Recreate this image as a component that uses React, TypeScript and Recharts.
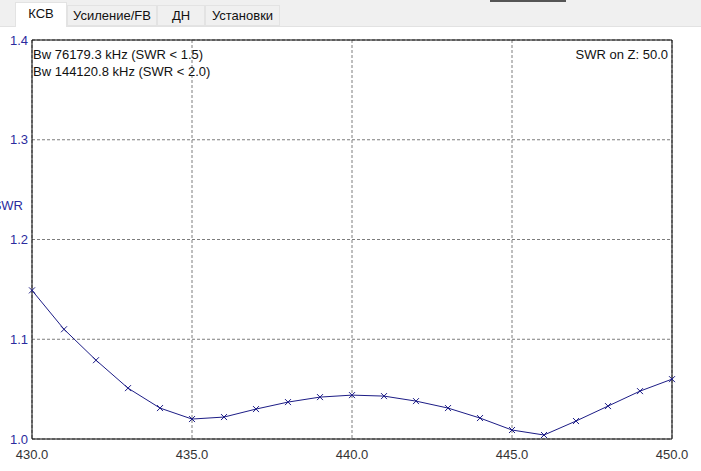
import React from "react";
import {
  CartesianGrid,
  Line,
  LineChart,
  ReferenceArea,
  XAxis,
  YAxis,
} from "recharts";

const freqs = [
  430, 431, 432, 433, 434, 435, 436, 437, 438, 439, 440, 441, 442, 443, 444,
  445, 446, 447, 448, 449, 450,
];
const swr = [
  1.149, 1.11, 1.079, 1.051, 1.031, 1.02, 1.022, 1.03, 1.037, 1.042, 1.044,
  1.043, 1.038, 1.031, 1.021, 1.009, 1.004, 1.018, 1.033, 1.048, 1.06,
];
const xTicks = [430, 435, 440, 445, 450];
const yTicks = [1.0, 1.1, 1.2, 1.3, 1.4];
const tabs = ["КСВ", "Усиление/FB", "ДН", "Установки"];
const notes = ["Bw 76179.3 kHz (SWR < 1.5)", "Bw 144120.8 kHz (SWR < 2.0)"];
const impedanceNote = "SWR on Z: 50.0";

const data = freqs.map((f, i) => ({ f, swr: swr[i] }));

const FONT = '"Liberation Sans", Arial, sans-serif';
const NAVY = "#1c1c86";

function CrossDot(props: any) {
  const { cx, cy } = props;
  if (cx == null || cy == null) return null;
  const s = 3;
  return (
    <path
      d={`M${cx - s},${cy - s}L${cx + s},${cy + s}M${cx + s},${cy - s}L${cx - s},${cy + s}`}
      stroke={NAVY}
      strokeWidth={1}
      fill="none"
    />
  );
}

// tab strip geometry (left, width)
const tabBoxes = [
  [15, 52],
  [67, 90],
  [157, 48],
  [205, 75],
];

export default function App() {
  return (
    <div
      style={{
        position: "fixed",
        left: 0,
        top: 0,
        width: 701,
        height: 471,
        background: "#fff",
        fontFamily: FONT,
        overflow: "hidden",
      }}
    >
      <div
        style={{
          position: "absolute",
          left: 0,
          top: 0,
          width: 701,
          height: 26,
          background: "#f0f0f0",
          borderBottom: "1px solid #e2e2e2",
        }}
      />
      <div
        style={{
          position: "absolute",
          left: 490,
          top: 0,
          width: 76,
          height: 2,
          background: "#555",
        }}
      />
      {tabs.map((t, i) => {
        const [left, w] = tabBoxes[i];
        const active = i === 0;
        return (
          <div
            key={t}
            style={{
              position: "absolute",
              left,
              top: active ? 2 : 5,
              width: w,
              height: active ? 25 : 21,
              boxSizing: "border-box",
              background: active ? "#fff" : "#f0f0f0",
              border: "1px solid #e3e3e3",
              borderBottom: active ? "none" : "1px solid #e3e3e3",
              fontSize: 13,
              color: "#111",
              textAlign: "center",
              lineHeight: active ? "22px" : "20px",
              zIndex: active ? 2 : 1,
            }}
          >
            {t}
          </div>
        );
      })}

      <div style={{ position: "absolute", left: 0, top: 0 }}>
        <LineChart
          width={701}
          height={471}
          data={data}
          margin={{ top: 40, right: 29, bottom: 0, left: 0 }}
        >
          <CartesianGrid
            stroke="#7c7c7c"
            strokeDasharray="3 2"
            verticalValues={xTicks}
            horizontalValues={yTicks}
          />
          <XAxis
            dataKey="f"
            type="number"
            domain={[430, 450]}
            ticks={xTicks}
            tickFormatter={(v: number) => v.toFixed(1)}
            axisLine={false}
            tickLine={false}
            tickSize={6}
            tickMargin={5}
            height={32}
            tick={{ fill: "#333", fontSize: 13, fontFamily: FONT }}
            interval={0}
          />
          <YAxis
            type="number"
            domain={[1.0, 1.4]}
            ticks={yTicks}
            tickFormatter={(v: number) => v.toFixed(1)}
            axisLine={false}
            tickLine={false}
            tickSize={0}
            tickMargin={4}
            width={32}
            tick={{ fill: "#2b2b9e", fontSize: 13, fontFamily: FONT }}
            interval={0}
            allowDataOverflow
          />
          <ReferenceArea
            x1={430}
            x2={450}
            y1={1.0}
            y2={1.4}
            fill="none"
            stroke="#000"
            strokeWidth={1}
            ifOverflow="visible"
          />
          <Line
            dataKey="swr"
            type="linear"
            stroke={NAVY}
            strokeWidth={1}
            dot={<CrossDot />}
            activeDot={false}
            isAnimationActive={false}
          />
        </LineChart>
      </div>

      <div
        style={{
          position: "absolute",
          right: 678,
          top: 198,
          fontSize: 13,
          color: "#2b2b9e",
          whiteSpace: "nowrap",
        }}
      >
        SWR
      </div>
      {notes.map((n, i) => (
        <div
          key={n}
          style={{
            position: "absolute",
            left: 33,
            top: 47 + i * 17,
            fontSize: 13,
            color: "#111",
            whiteSpace: "nowrap",
          }}
        >
          {n}
        </div>
      ))}
      <div
        style={{
          position: "absolute",
          right: 33,
          top: 47,
          fontSize: 13,
          color: "#111",
          whiteSpace: "nowrap",
        }}
      >
        {impedanceNote}
      </div>
    </div>
  );
}
